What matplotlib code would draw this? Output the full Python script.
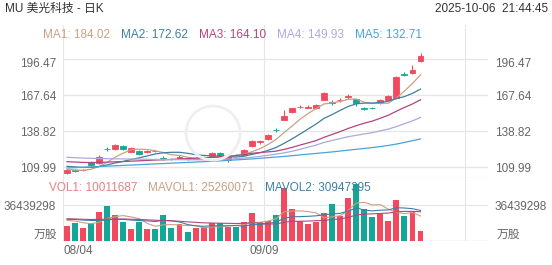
import matplotlib.pyplot as plt
from matplotlib.patches import Rectangle, Ellipse
from matplotlib.transforms import blended_transform_factory, ScaledTranslation
import numpy as np

plt.rcParams['font.family'] = ['Liberation Sans', 'Noto Sans CJK SC', 'DejaVu Sans']

# K线数据 (2025-08-04 ~ 2025-10-06)
opens = [105.5, 107.8, 107.5, 114.3, 113.2, 124.9, 124.6, 127.3, 122.5, 123.0,
         122.0, 123.2, 117.6, 117.0, 117.4, 117.0, 117.0, 117.6, 118.5, 121.7,
         115.8, 119.9, 119.8, 127.0, 130.3, 132.4, 140.2, 147.9, 153.9, 158.0,
         157.8, 157.2, 163.9, 162.0, 163.6, 166.3, 164.4, 157.5, 157.6, 161.2,
         163.9, 165.2, 184.8, 185.2, 195.3]
closes = [107.8, 107.3, 107.9, 111.9, 118.5, 124.4, 127.8, 124.4, 125.4, 120.4,
          123.2, 122.8, 117.0, 116.4, 117.9, 116.3, 117.3, 118.0, 121.4, 119.0,
          118.5, 119.5, 123.8, 131.0, 130.7, 135.8, 139.7, 151.3, 157.1, 158.5,
          158.2, 159.9, 169.7, 161.5, 164.1, 166.8, 161.2, 157.0, 157.1, 163.9,
          167.3, 182.5, 184.2, 187.9, 199.3]
highs = [108.5, 108.8, 108.9, 115.0, 119.5, 126.0, 128.6, 128.0, 126.0, 123.5,
         124.0, 123.8, 118.8, 117.5, 119.8, 117.5, 118.0, 118.8, 122.0, 122.2,
         119.5, 120.5, 124.5, 131.5, 132.2, 137.0, 141.5, 155.9, 157.5, 160.0,
         159.5, 160.5, 170.5, 163.5, 165.5, 168.3, 165.0, 158.3, 158.5, 164.5,
         168.0, 183.0, 186.5, 191.9, 201.3]
lows = [105.0, 106.2, 106.8, 111.0, 112.5, 123.0, 124.0, 123.8, 122.0, 119.8,
        121.4, 122.0, 116.0, 116.0, 116.8, 115.8, 116.5, 117.0, 118.0, 118.6,
        114.5, 119.0, 119.5, 126.5, 129.0, 132.0, 138.5, 147.5, 153.5, 157.5,
        157.5, 156.8, 163.5, 160.0, 162.5, 165.0, 159.1, 155.5, 156.3, 160.8,
        163.5, 164.8, 183.0, 184.8, 194.1]

ma1 = [108.3, 107.8, 107.6, 108.4, 110.7, 114.0, 118.1, 121.4, 124.1, 124.5,
       124.2, 123.2, 121.8, 120.0, 119.5, 118.1, 117.0, 117.2, 118.2, 118.4,
       118.8, 119.4, 120.5, 122.4, 124.8, 128.2, 132.2, 137.7, 142.9, 148.5,
       153.0, 157.0, 160.7, 161.6, 162.7, 164.4, 164.7, 162.1, 161.2, 161.2,
       161.3, 165.6, 171.0, 177.2, 184.0]
ma2 = [110.8, 110.3, 109.9, 109.9, 110.6, 111.9, 113.5, 114.7, 116.3, 117.6,
       119.1, 120.7, 121.6, 122.0, 122.0, 121.2, 120.1, 119.5, 119.1, 118.9,
       118.5, 118.2, 118.8, 120.3, 121.6, 123.5, 125.8, 129.1, 132.7, 136.6,
       140.6, 144.6, 149.2, 152.2, 155.6, 158.7, 160.8, 161.4, 161.4, 161.9,
       162.9, 165.1, 166.6, 169.2, 172.6]
ma3 = [114.5, 114.2, 113.9, 113.8, 113.9, 114.1, 114.4, 114.6, 114.9, 115.2,
       115.5, 115.8, 116.0, 116.3, 116.7, 117.0, 117.3, 117.6, 117.9, 118.3,
       118.8, 119.4, 120.2, 121.2, 121.8, 122.3, 122.9, 124.3, 125.9, 127.8,
       129.5, 131.4, 134.0, 136.3, 138.6, 141.1, 143.3, 145.3, 147.0, 149.3,
       151.7, 154.9, 157.9, 160.7, 164.1]
ma4 = [118.0, 117.7, 117.4, 117.2, 117.0, 116.9, 116.8, 116.7, 116.6, 116.5,
       116.4, 116.3, 116.2, 116.1, 116.1, 116.0, 116.0, 116.0, 116.1, 116.2,
       116.5, 116.9, 117.4, 118.0, 118.8, 119.6, 120.5, 121.5, 122.8, 124.4,
       126.1, 127.8, 129.9, 131.5, 133.0, 134.5, 135.6, 136.7, 137.7, 139.2,
       140.6, 142.6, 144.9, 147.2, 149.9]
ma5 = [109.4, 109.7, 110.0, 110.3, 110.6, 110.9, 111.2, 111.5, 111.8, 112.1,
       112.4, 112.7, 113.0, 113.3, 113.6, 113.9, 114.2, 114.5, 114.8, 115.1,
       115.5, 115.9, 116.3, 116.7, 117.2, 117.7, 118.2, 118.7, 119.3, 119.9,
       120.5, 121.1, 121.7, 122.3, 123.0, 123.7, 124.4, 125.1, 125.8, 126.6,
       127.5, 128.6, 129.9, 131.3, 132.7]

# 成交量 (百万股)
vols = [15.2, 18.5, 13.5, 18.5, 29.0, 35.7, 26.3, 18.9, 12.1, 19.5,
        12.1, 11.8, 26.3, 13.5, 17.2, 9.1, 12.8, 14.2, 17.9, 17.9,
        13.8, 14.5, 18.8, 28.6, 18.8, 20.2, 26.3, 53.3, 32.4, 20.2,
        16.9, 19.5, 28.6, 37.4, 25.6, 43.2, 57.4, 32.4, 24.0, 27.0,
        20.2, 41.5, 25.6, 29.7, 10.0]
mavol1 = [21.0, 20.2, 18.5, 17.5, 18.9, 23.0, 24.6, 25.7, 24.4, 22.5,
          17.8, 14.9, 16.4, 16.6, 16.2, 15.6, 15.8, 13.4, 14.2, 14.4,
          15.3, 15.7, 16.6, 18.7, 18.9, 20.2, 22.5, 29.4, 30.2, 30.5,
          29.8, 28.5, 23.5, 24.5, 25.6, 30.9, 38.4, 39.2, 36.5, 36.8,
          32.2, 29.0, 27.7, 28.8, 25.3]
mavol2 = [22.0, 21.8, 21.2, 20.8, 20.8, 21.5, 21.8, 21.9, 21.2, 20.7,
          20.4, 19.7, 21.0, 20.5, 19.3, 16.7, 15.3, 14.9, 15.4, 15.3,
          15.5, 15.7, 15.0, 16.5, 16.6, 17.8, 19.1, 23.0, 24.5, 24.7,
          25.0, 25.5, 26.5, 27.4, 28.0, 30.3, 33.5, 31.4, 30.5, 31.2,
          31.5, 33.7, 33.4, 32.7, 30.9]
mavol3 = [22.5, 22.3, 22.0, 21.8, 21.9, 22.2, 22.3, 22.3, 22.0, 21.8,
          21.4, 21.0, 20.8, 20.4, 20.0, 19.4, 18.9, 18.4, 18.2, 18.0,
          17.9, 17.7, 18.0, 18.5, 18.0, 17.2, 17.2, 18.9, 20.0, 20.0,
          20.2, 20.6, 20.7, 21.9, 22.3, 24.0, 26.3, 27.2, 27.5, 27.9,
          28.3, 29.6, 30.0, 30.0, 29.6]

price_ticks = [109.99, 138.82, 167.64, 196.47]
vol_tick = 36.439298
date_labels = ['08/04', '09/09']
date_idx = [0, 25]

ma_names = ['MA1: 184.02', 'MA2: 172.62', 'MA3: 164.10', 'MA4: 149.93', 'MA5: 132.71']
vol_names = ['VOL1: 10011687', 'MAVOL1: 25260071', 'MAVOL2: 30947395']

UP = '#f2495f'
DOWN = '#16a696'
C_MA = ['#c9a183', '#3f7ea3', '#b3467c', '#a9aadc', '#4aa3d6']
GRID = '#e6e6e6'
TXT = '#666666'

W, H = 552, 265


def box(x0, y0, x1, y1):
    return [x0 / W, 1 - y1 / H, (x1 - x0) / W, (y1 - y0) / H]


fig = plt.figure(figsize=(W / 100, H / 100), dpi=100)
ax = fig.add_axes(box(63, 25, 488, 178))
axv = fig.add_axes(box(63, 178, 488, 241))

# 水印圆圈
fig.patches.append(Ellipse((213 / W, 1 - 133 / H), 54 / W, 54 / H, transform=fig.transFigure,
                           fill=False, edgecolor='#efefef', lw=2.0, zorder=0))

x = np.arange(len(closes))
bw = 0.74

# K线
for i in x:
    col = UP if closes[i] >= opens[i] else DOWN
    ax.vlines(i, lows[i], highs[i], color=col, lw=0.8, zorder=3)
    b0 = min(opens[i], closes[i])
    ax.add_patch(Rectangle((i - bw / 2, b0), bw, abs(closes[i] - opens[i]),
                           facecolor=col, edgecolor=col, lw=0.6, zorder=4))

for vals, c in zip([ma1, ma2, ma3, ma4, ma5], C_MA):
    ax.plot(x, vals, color=c, lw=0.9, zorder=5)

# 成交量
vcols = [UP if closes[i] >= opens[i] else DOWN for i in x]
axv.bar(x, vols, width=bw, color=vcols, zorder=3)
axv.plot(x, mavol1, color=C_MA[0], lw=0.8, zorder=4)
axv.plot(x, mavol2, color=C_MA[1], lw=0.8, zorder=4)
axv.plot(x, mavol3, color=C_MA[2], lw=0.8, zorder=4)

xlim = (-0.5, 52.4)
ax.set_xlim(*xlim)
axv.set_xlim(*xlim)
ax.set_ylim(101.42, 223.93)
axv.set_ylim(0, 63.8)

for a in (ax, axv):
    a.patch.set_alpha(0)
    for s in a.spines.values():
        s.set_visible(False)
    a.set_xticks([])
    for gx in (-0.5, 24.5, 49.5):
        a.axvline(gx, color=GRID, lw=0.8, zorder=0)
    a.tick_params(axis='y', length=0, labelsize=8.5, labelcolor=TXT,
                  labelleft=True, labelright=True, pad=5)

ax.set_yticks(price_ticks)
ax.set_yticklabels([f'{v:.2f}' for v in price_ticks])
for v in price_ticks:
    ax.axhline(v, color=GRID, lw=0.9, zorder=0)
ax.axhline(101.42, color=GRID, lw=0.9, zorder=0)
# 最上面的刻度文字略向下
shift = ScaledTranslation(0, -3 / 100, fig.dpi_scale_trans)
top_tick = ax.yaxis.get_major_ticks()[-1]
top_tick.label1.set_transform(top_tick.label1.get_transform() + shift)
top_tick.label2.set_transform(top_tick.label2.get_transform() + shift)

axv.set_yticks([vol_tick])
axv.set_yticklabels([f'{vol_tick * 1e6:.0f}'])
axv.axhline(vol_tick, color=GRID, lw=0.9, zorder=0)
axv.axhline(0, color='#d0d0d0', lw=0.9, zorder=1)
tr = blended_transform_factory(axv.transAxes, axv.transData)
axv.text(-0.014, 6.0, '万股', transform=tr, ha='right', va='center', fontsize=8.5, color=TXT)
axv.text(1.021, 6.0, '万股', transform=tr, ha='left', va='center', fontsize=8.5, color=TXT)

# 日期
trx = blended_transform_factory(axv.transData, fig.transFigure)
axv.text(date_idx[0] - 0.5, 1 - 251 / H, date_labels[0], transform=trx,
         ha='left', va='center', fontsize=8.5, color=TXT)
axv.text(date_idx[1] - 0.5, 1 - 251 / H, date_labels[1], transform=trx,
         ha='center', va='center', fontsize=8.5, color=TXT)

# 标题与图例
fig.text(5 / W, 1 - 9 / H, 'MU 美光科技 - 日K', ha='left', va='center', fontsize=8.5, color='#333333')
fig.text(548 / W, 1 - 9 / H, '2025-10-06  21:44:45', ha='right', va='center', fontsize=8.5, color='#333333')
for k, (name, c) in enumerate(zip(ma_names, C_MA)):
    fig.text((43 + 78 * k) / W, 1 - 35 / H, name, ha='left', va='center', fontsize=8.5, color=c)
for xp, name, c in zip([49, 148, 265], vol_names, ['#e8807f', C_MA[0], C_MA[1]]):
    fig.text(xp / W, 1 - 188 / H, name, ha='left', va='center', fontsize=8.5, color=c)

fig.savefig('out.png', dpi=100)
